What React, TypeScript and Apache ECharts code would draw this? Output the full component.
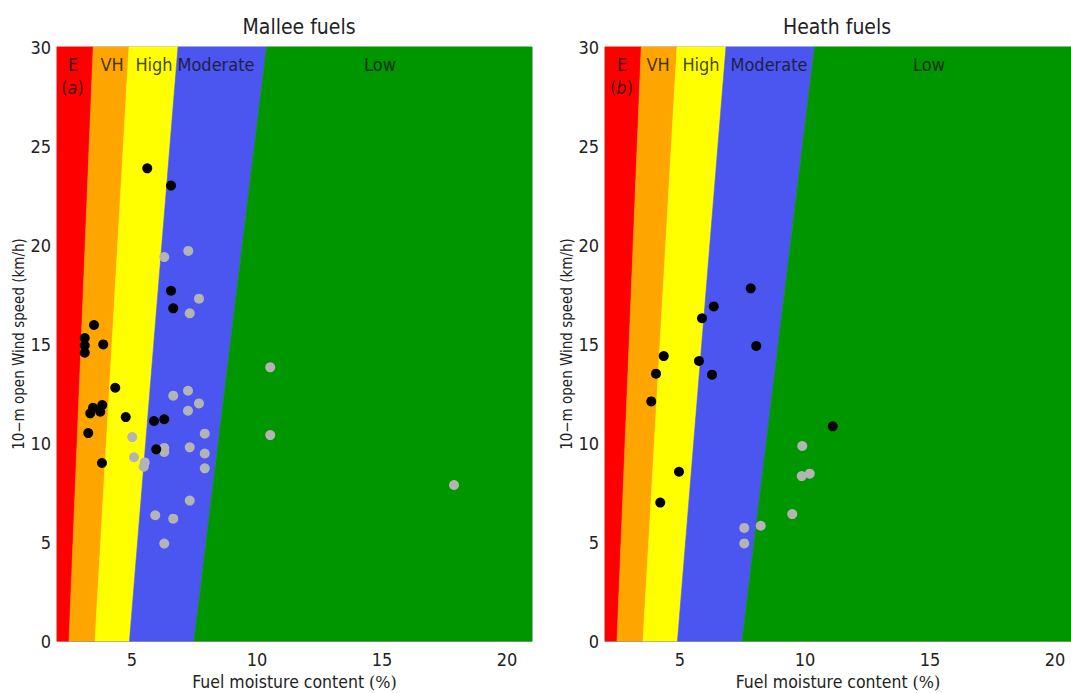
import React, { useEffect, useRef } from "react";
import * as echarts from "echarts";

// ---- data ----
const panelTitles = ["Mallee fuels", "Heath fuels"];
const panelTags = ["a", "b"];
const bandNames = ["E", "VH", "High", "Moderate", "Low"];
const bandColors = ["#ff0000", "#ffa500", "#ffff00", "#4b55f0", "#009600"];
// class boundaries (fuel moisture %) at wind 0 km/h and at 30 km/h
const boundaryAtWind0 = [2.48, 3.52, 4.9, 7.48];
const boundaryAtWind30 = [3.45, 4.88, 6.84, 10.38];
const xTicks = [5, 10, 15, 20];
const yTicks = [0, 5, 10, 15, 20, 25, 30];

const malleeBlack = [
  [5.61, 23.87], [6.56, 23.0], [6.56, 17.69], [6.65, 16.8], [3.48, 15.96],
  [3.11, 15.3], [3.11, 14.92], [3.85, 14.98], [3.11, 14.56], [4.33, 12.79],
  [3.44, 11.78], [3.81, 11.92], [3.33, 11.5], [3.73, 11.58], [4.75, 11.31],
  [3.25, 10.5], [3.8, 8.99], [5.88, 11.11], [6.29, 11.2], [5.97, 9.68],
];
const malleeGray = [
  [7.25, 19.7], [6.29, 19.39], [7.68, 17.29], [7.31, 16.55], [6.65, 12.39],
  [7.24, 12.64], [7.68, 12.0], [7.24, 11.63], [5.01, 10.3], [7.91, 10.47],
  [10.53, 13.82], [10.53, 10.4], [5.08, 9.28], [6.29, 9.75], [6.29, 9.55],
  [7.31, 9.78], [7.91, 9.47], [5.51, 9.02], [5.47, 8.8], [7.91, 8.72],
  [7.31, 7.09], [5.93, 6.35], [6.65, 6.18], [6.29, 4.92], [17.88, 7.88],
];
const heathBlack = [
  [7.83, 17.81], [6.35, 16.9], [5.88, 16.3], [8.05, 14.9], [4.35, 14.39],
  [5.76, 14.14], [4.04, 13.5], [6.28, 13.45], [3.85, 12.1], [11.11, 10.84],
  [4.96, 8.55], [4.21, 6.99],
];
const heathGray = [
  [9.89, 9.85], [9.87, 8.33], [10.19, 8.45], [9.49, 6.41], [8.23, 5.82],
  [7.57, 5.71], [7.57, 4.93],
];

// ---- layout ----
const X_MIN = 2;
const X_MAX = [21, 20.64];
const Y_MIN = 0;
const Y_MAX = 30;
const GRID_LEFT = [57, 605];
const GRID_WIDTH = [475, 466];
const GRID_TOP = 47;
const GRID_HEIGHT = 594;
const TITLE_X = [294, 832];
const LABEL_X = [
  [2.64, 4.2, 5.88, 8.36, 14.92],
  [2.68, 4.12, 5.84, 8.56, 14.96],
];
const LABEL_Y = 29.14;
const TAG_Y = 27.93;

const FONT = "'DejaVu Sans Condensed', 'DejaVu Sans', sans-serif";

function buildBands(panel: number) {
  const xmax = X_MAX[panel];
  const rows: number[][] = [];
  for (let i = 0; i < bandNames.length; i++) {
    const lb = i === 0 ? X_MIN : boundaryAtWind0[i - 1];
    const lt = i === 0 ? X_MIN : boundaryAtWind30[i - 1];
    const rb = i === bandNames.length - 1 ? xmax : boundaryAtWind0[i];
    const rt = i === bandNames.length - 1 ? xmax : boundaryAtWind30[i];
    rows.push([lb, rb, lt, rt]);
  }
  return rows;
}

export default function App() {
  const ref = useRef<HTMLDivElement>(null);
  useEffect(() => {
    if (!ref.current) return;
    const chart = echarts.init(ref.current, null, { renderer: "svg" });
    const grids: any[] = [];
    const xAxes: any[] = [];
    const yAxes: any[] = [];
    const series: any[] = [];
    const titles: any[] = [];
    const pointSets = [
      [malleeBlack, malleeGray],
      [heathBlack, heathGray],
    ];
    for (let p = 0; p < 2; p++) {
      grids.push({
        left: GRID_LEFT[p],
        top: GRID_TOP,
        width: GRID_WIDTH[p],
        height: GRID_HEIGHT,
        containLabel: false,
        outerBoundsMode: "none",
        show: true,
        borderColor: "#9a9a9a",
        borderWidth: 1,
        backgroundColor: "transparent",
      });
      xAxes.push({
        type: "value",
        gridIndex: p,
        min: X_MIN,
        max: X_MAX[p],
        name: "Fuel moisture content {s|(%)}",
        nameLocation: "middle",
        nameGap: 32,
        nameTextStyle: {
          fontFamily: FONT,
          fontSize: 17.5,
          color: "#222",
          rich: { s: { fontFamily: "'DejaVu Serif', serif", fontSize: 16, color: "#222" } },
        },
        axisLine: { show: true, lineStyle: { color: "#9a9a9a" } },
        axisTick: { show: false },
        splitLine: { show: false },
        axisLabel: {
          fontFamily: FONT,
          fontSize: 18,
          color: "#222",
          margin: 9,
          customValues: xTicks,
        },
      });
      yAxes.push({
        type: "value",
        gridIndex: p,
        min: Y_MIN,
        max: Y_MAX,
        interval: 5,
        name: "10\u2212m open Wind speed (km/h)",
        nameLocation: "middle",
        nameGap: 31,
        nameTextStyle: { fontFamily: FONT, fontSize: 15, color: "#222" },
        axisLine: { show: true, lineStyle: { color: "#9a9a9a" } },
        axisTick: { show: false },
        splitLine: { show: false },
        axisLabel: {
          fontFamily: FONT,
          fontSize: 18,
          color: "#222",
          margin: 6,
          customValues: yTicks,
        },
      });
      titles.push({
        text: panelTitles[p],
        left: TITLE_X[p],
        top: 11,
        textAlign: "center",
        textStyle: { fontFamily: FONT, fontSize: 21, fontWeight: "normal", color: "#222" },
      });
      series.push({
        type: "custom",
        xAxisIndex: p,
        yAxisIndex: p,
        z: 1,
        silent: true,
        data: buildBands(p),
        renderItem: (params: any, api: any) => {
          const lb = api.value(0), rb = api.value(1), lt = api.value(2), rt = api.value(3);
          const pts = [
            api.coord([lb, Y_MIN]),
            api.coord([rb, Y_MIN]),
            api.coord([rt, Y_MAX]),
            api.coord([lt, Y_MAX]),
          ];
          const c = bandColors[params.dataIndex];
          return {
            type: "polygon",
            shape: { points: pts },
            style: { fill: c, stroke: c, lineWidth: 0.6 },
          };
        },
        encode: { x: [0, 1, 2, 3] },
      });
      const labelData: any[] = bandNames.map((n, i) => ({
        value: [LABEL_X[p][i], LABEL_Y],
        name: n,
      }));
      labelData.push({ value: [LABEL_X[p][0] - 0.02, TAG_Y], name: "({i|" + panelTags[p] + "})" });
      series.push({
        type: "scatter",
        xAxisIndex: p,
        yAxisIndex: p,
        z: 3,
        silent: true,
        symbolSize: 0,
        data: labelData,
        label: {
          show: true,
          position: "inside",
          formatter: (d: any) => d.name,
          fontFamily: FONT,
          fontSize: 18,
          color: "#111",
          rich: { i: { fontFamily: FONT, fontSize: 18, fontStyle: "italic", color: "#111" } },
        },
      });
      series.push({
        type: "scatter",
        xAxisIndex: p,
        yAxisIndex: p,
        z: 4,
        symbolSize: 10,
        itemStyle: { color: "#b4b4b4", opacity: 1 },
        data: pointSets[p][1],
      });
      series.push({
        type: "scatter",
        xAxisIndex: p,
        yAxisIndex: p,
        z: 5,
        symbolSize: 10,
        itemStyle: { color: "#000000", opacity: 1 },
        data: pointSets[p][0],
      });
    }
    chart.setOption({
      animation: false,
      backgroundColor: "#ffffff",
      title: titles,
      grid: grids,
      xAxis: xAxes,
      yAxis: yAxes,
      series,
    });
    return () => chart.dispose();
  }, []);
  return (
    <div
      ref={ref}
      style={{ position: "absolute", left: 0, top: 0, width: 1071, height: 693 }}
    />
  );
}
